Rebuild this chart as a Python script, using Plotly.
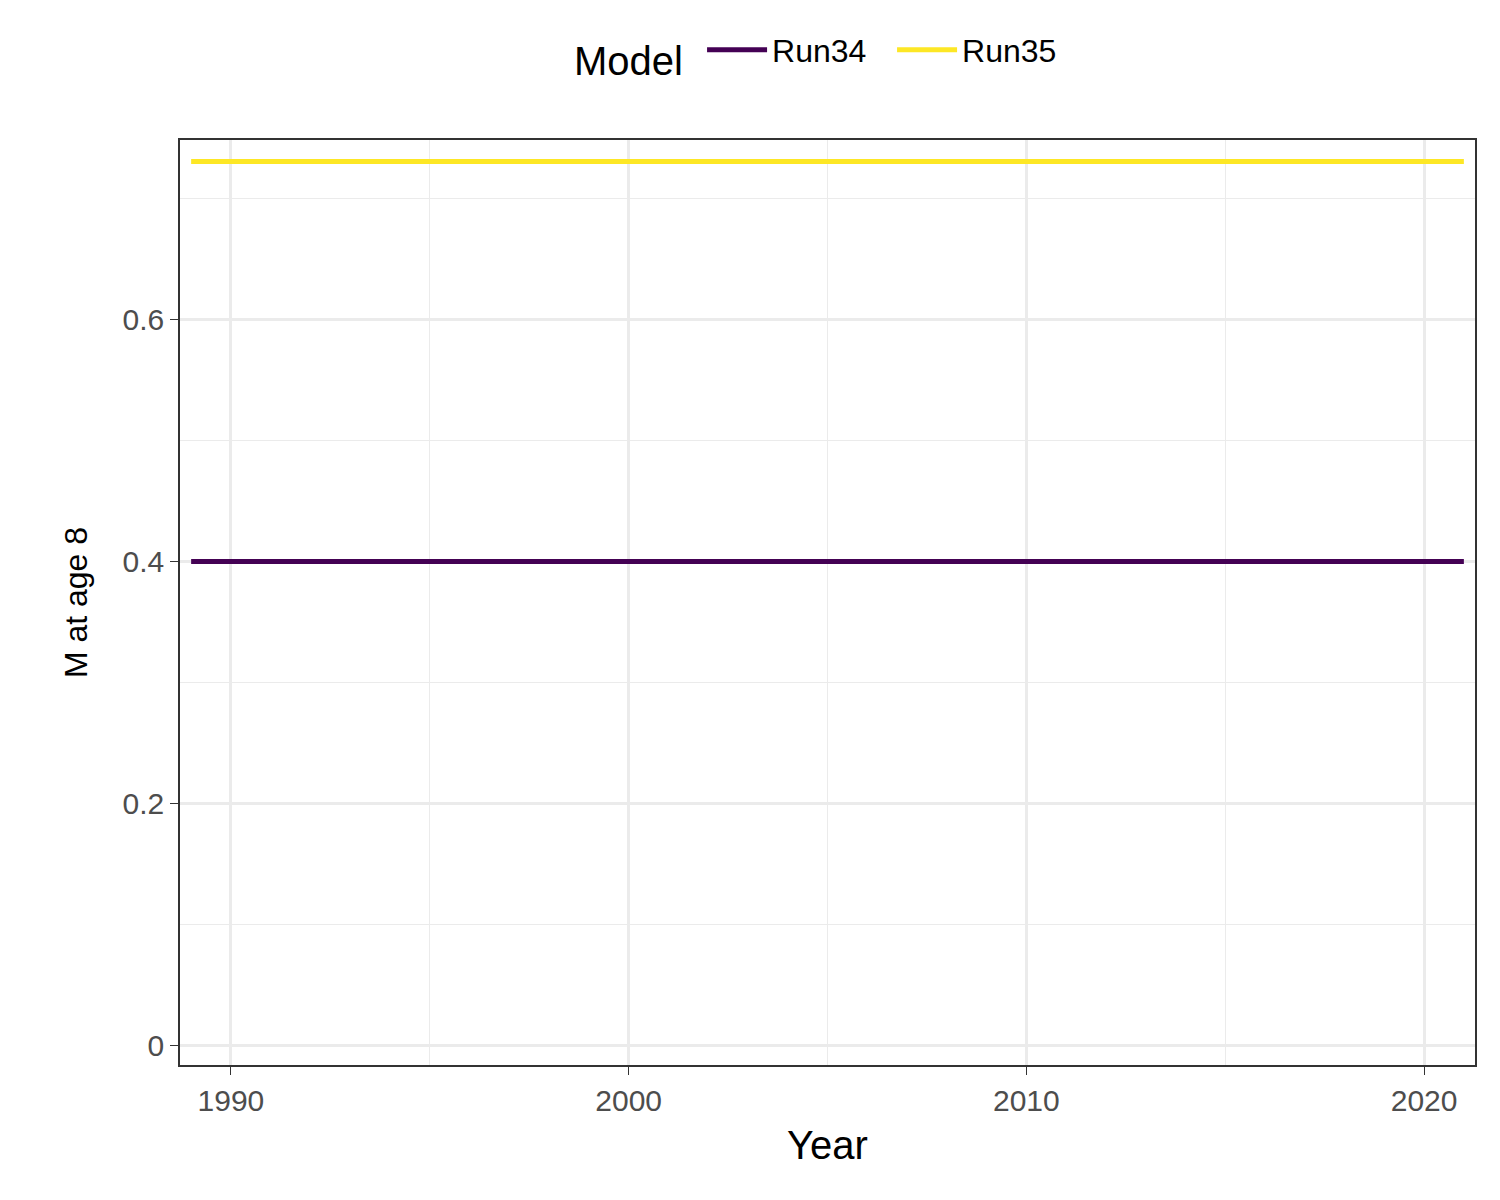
import plotly.graph_objects as go

years = list(range(1989, 2022))
run34 = [0.4] * len(years)
run35 = [0.731] * len(years)

fig = go.Figure()
fig.add_trace(go.Scatter(x=years, y=run34, mode='lines', name='Run34',
                         line=dict(color='#440154', width=5)))
fig.add_trace(go.Scatter(x=years, y=run35, mode='lines', name='Run35',
                         line=dict(color='#FDE725', width=5)))

axis = dict(showline=True, linecolor='#333333', linewidth=1.5, mirror=True,
            gridcolor='#EBEBEB', gridwidth=2.5, zeroline=False,
            ticks='outside', ticklen=8, tickcolor='#333333',
            tickfont=dict(size=30, color='#4D4D4D'))

fig.update_layout(
    width=1500, height=1200,
    font=dict(family='Liberation Sans, Arial', color='black'),
    plot_bgcolor='white', paper_bgcolor='white',
    margin=dict(l=172, r=33, t=132, b=143),
    legend=dict(orientation='h', x=0.5, xanchor='center', y=1.06, yanchor='bottom',
                title=dict(text='Model ', font=dict(size=40)), font=dict(size=32),
                itemwidth=60, entrywidth=115),
    xaxis=dict(axis, range=[1988.72, 2021.28], tickvals=[1990, 2000, 2010, 2020],
               minor=dict(tickvals=[1995, 2005, 2015], showgrid=True, gridcolor='#EBEBEB', gridwidth=1.2),
               title=dict(text='Year', font=dict(size=40), standoff=15)),
    yaxis=dict(axis, range=[-0.0165, 0.7488], tickvals=[0, 0.2, 0.4, 0.6],
               ticktext=['0', '0.2', '0.4', '0.6'],
               minor=dict(tickvals=[0.1, 0.3, 0.5, 0.7], showgrid=True, gridcolor='#EBEBEB', gridwidth=1.2),
               title=dict(text='M at age 8', font=dict(size=32), standoff=25)),
)

fig.write_html("out.html")
